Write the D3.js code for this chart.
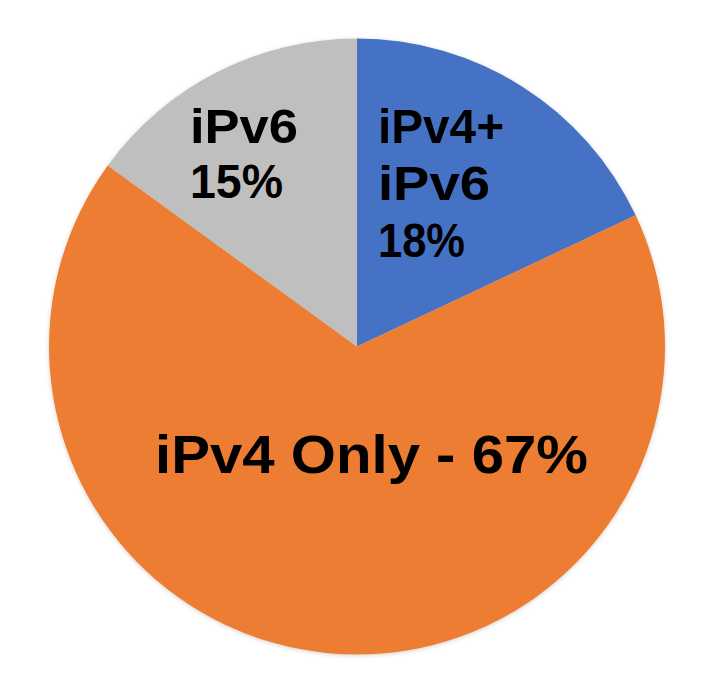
<!DOCTYPE html>
<html>
<head>
<meta charset="utf-8">
<style>
  body { margin: 0; background: #fff; }
  svg text { font-family: "Liberation Sans", Arial, sans-serif; font-weight: bold; fill: #000; }
</style>
<script src="https://cdn.jsdelivr.net/npm/d3@7"></script>
</head>
<body>
<svg id="chart"></svg>
<script>
  // slices, clockwise from 12 o'clock
  var categories = ['iPv4+ iPv6', 'iPv4 Only', 'iPv6'];
  var shares = [18, 67, 15];
  var colors = ['#4472C4', '#ED7D31', '#BFBFBF'];
  // label lines per slice, as drawn on the picture
  var labelLines = [['iPv4+', 'iPv6', '18%'], ['iPv4 Only - 67%'], ['iPv6', '15%']];

  var width = 725;
  var height = 693;
  var cx = 357, cy = 346.5, radius = 308;

  var svg = d3.select('#chart')
    .attr('width', width)
    .attr('height', height);

  var defs = svg.append('defs');
  var shadow = defs.append('filter').attr('id', 'shadow')
    .attr('x', '-10%').attr('y', '-10%').attr('width', '120%').attr('height', '120%');
  shadow.append('feDropShadow')
    .attr('dx', 0).attr('dy', 1).attr('stdDeviation', 2)
    .attr('flood-color', '#000').attr('flood-opacity', 0.18);

  var pie = d3.pie().sort(null).value((d) => d);
  var arc = d3.arc().innerRadius(0).outerRadius(radius);

  var g = svg.append('g').attr('transform', 'translate(' + cx + ',' + cy + ')');
  g.append('g').attr('filter', 'url(#shadow)')
    .selectAll('path').data(pie(shares))
    .enter().append('path')
      .attr('d', arc)
      .attr('fill', (d, i) => colors[i]);

  // label boxes: left x, first baseline, line step, size, widths (relative to centre)
  var labelPos = [
    {x: 21, y: -204, step: 57, size: 49, widths: [126, 112, 87]},
    {x: -202, y: 126, step: 0, size: 54, widths: [433]},
    {x: -167, y: -204, step: 55, size: 49, widths: [108, 93]}
  ];

  labelLines.forEach((lines, i) => {
    var p = labelPos[i];
    lines.forEach((t, j) => {
      g.append('text')
        .attr('x', p.x)
        .attr('y', p.y + j * p.step)
        .attr('font-size', p.size)
        .attr('textLength', p.widths[j])
        .attr('lengthAdjust', 'spacingAndGlyphs')
        .text(t);
    });
  });
</script>
</body>
</html>
